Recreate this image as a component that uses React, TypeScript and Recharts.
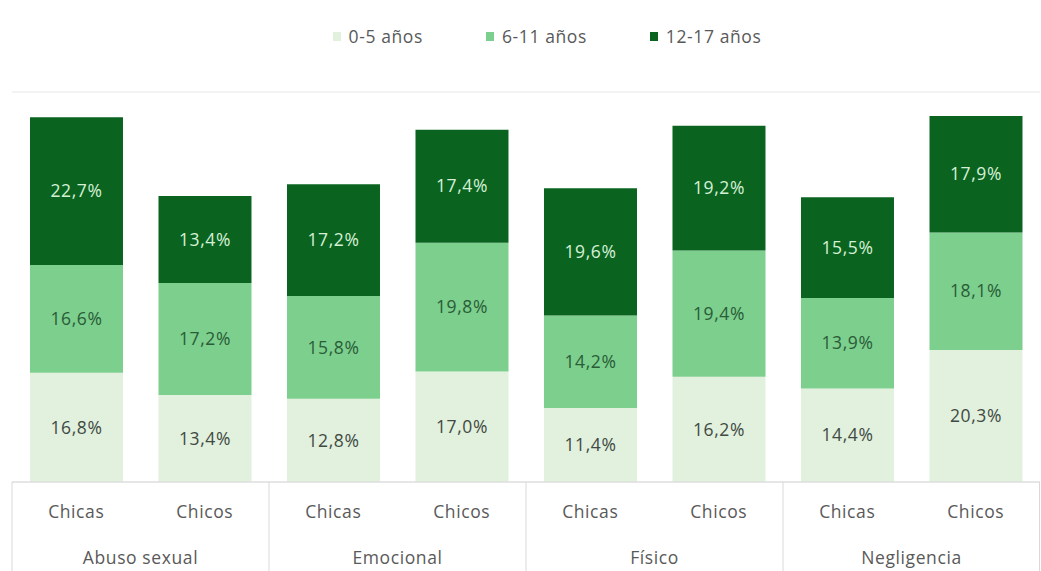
import React from 'react'
import {
    BarChart,
    Bar,
    XAxis,
    YAxis,
    CartesianGrid,
    Legend,
    LabelList,
} from 'recharts'

// data
const groups = ['Abuso sexual', 'Emocional', 'Físico', 'Negligencia']
const sexes = ['Chicas', 'Chicos']
const age0to5 = [16.8, 13.4, 12.8, 17.0, 11.4, 16.2, 14.4, 20.3]
const age6to11 = [16.6, 17.2, 15.8, 19.8, 14.2, 19.4, 13.9, 18.1]
const age12to17 = [22.7, 13.4, 17.2, 17.4, 19.6, 19.2, 15.5, 17.9]
const yTicks = [0, 10, 20, 30, 40, 50, 60]

const seriesNames = ['0-5 años', '6-11 años', '12-17 años']
const colors = ['#e2f0de', '#7ccf8d', '#0a6420']
const labelColors = ['#404a42', '#2a5c37', '#d6f0d6']

const data = age0to5.map((v, i) => ({
    group: groups[Math.floor(i / 2)],
    sex: sexes[i % 2],
    a: v,
    b: age6to11[i],
    c: age12to17[i],
}))

const W = 1041
const H = 571
const margin = { top: 20, right: 1, left: 12, bottom: 0 }
const band = (W - margin.left - margin.right) / data.length

const fmt = (v: any) => `${Number(v).toFixed(1).replace('.', ',')}%`

const font = '"Open Sans", "Noto Sans", sans-serif'
const fs = 17.5
const ls = 0.6

const LegendBox = () => (
    <div style={{ height: 72, display: 'flex', justifyContent: 'center', gap: 63, paddingTop: 4, paddingLeft: 42, boxSizing: 'border-box', fontFamily: font, fontSize: fs, letterSpacing: ls, color: '#595959' }}>
        {seriesNames.map((n, i) => (
            <div key={n} style={{ display: 'flex', alignItems: 'center', height: 24 }}>
                <span style={{ display: 'inline-block', width: 8, height: 9, background: colors[i], marginRight: 8 }} />
                {n}
            </div>
        ))}
    </div>
)

const AxisTick = (props: any) => {
    const { x, y, index, payload } = props
    const row = data[index]
    const left = x - band / 2
    return (
        <g>
            {index % 2 === 0 && (
                <>
                    <line x1={left} y1={y - 8} x2={left} y2={H} stroke="#d9d9d9" />
                    <text x={x + band / 2} y={y + 74} textAnchor="middle" fill="#595959" fontSize={fs} letterSpacing={ls} fontFamily={font}>
                        {row.group}
                    </text>
                </>
            )}
            {index === data.length - 1 && (
                <line x1={x + band / 2 - 0.5} y1={y - 8} x2={x + band / 2 - 0.5} y2={H} stroke="#d9d9d9" />
            )}
            <text x={x} y={y + 28} textAnchor="middle" fill="#595959" fontSize={fs} letterSpacing={ls} fontFamily={font}>
                {payload.value}
            </text>
        </g>
    )
}

export default function App() {
    return (
        <div style={{ position: 'absolute', left: 0, top: 0, background: '#fff' }}>
            <BarChart width={W} height={H} data={data} margin={margin} barCategoryGap="14%">
                <CartesianGrid vertical={false} stroke="#e6e6e6" />
                <Legend verticalAlign="top" content={<LegendBox />} wrapperStyle={{ top: margin.top }} />
                <XAxis
                    dataKey="sex"
                    height={89}
                    interval={0}
                    tickLine={false}
                    axisLine={{ stroke: '#d9d9d9' }}
                    tick={<AxisTick />}
                />
                <YAxis domain={[0, 60]} ticks={yTicks} width={0} tick={false} axisLine={false} tickLine={false} />
                {['a', 'b', 'c'].map((k, i) => (
                    <Bar key={k} dataKey={k} name={seriesNames[i]} stackId="s" fill={colors[i]} isAnimationActive={false}>
                        <LabelList
                            dataKey={k}
                            position="center"
                            formatter={fmt}
                            fill={labelColors[i]}
                            fontSize={fs}
                            letterSpacing={ls}
                            fontFamily={font}
                        />
                    </Bar>
                ))}
            </BarChart>
        </div>
    )
}
